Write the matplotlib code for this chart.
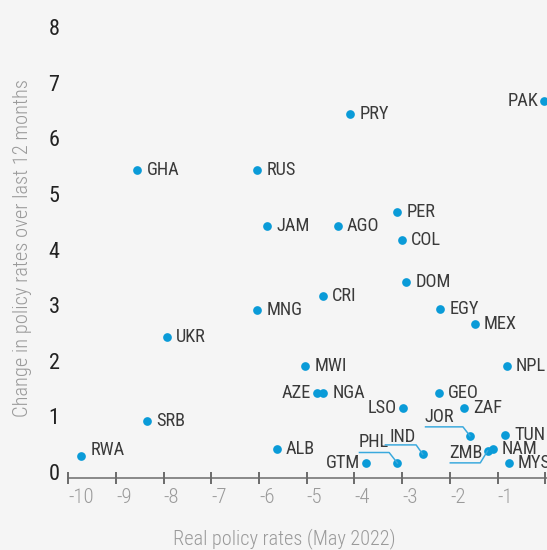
import matplotlib
matplotlib.use("Agg")
import matplotlib.pyplot as plt
from matplotlib.lines import Line2D
from matplotlib.transforms import IdentityTransform

plt.rcParams['font.family'] = ['Roboto Condensed', 'Liberation Sans Narrow', 'Roboto', 'DejaVu Sans']

# ---- data ----
countries = ["GHA", "RUS", "JAM", "PRY", "PAK", "AGO", "PER", "COL", "DOM", "CRI",
             "MNG", "EGY", "MEX", "NPL", "MWI", "AZE", "NGA", "LSO", "GEO", "ZAF",
             "JOR", "TUN", "IND", "NAM", "ZMB", "MYS", "PHL", "GTM", "ALB", "UKR",
             "SRB", "RWA"]
real_rate = [-8.55, -6.04, -5.83, -4.09, -0.02, -4.35, -3.10, -3.00, -2.91, -4.67,
             -6.04, -2.20, -1.48, -0.81, -5.03, -4.79, -4.65, -2.98, -2.23, -1.70,
             -1.58, -0.84, -2.57, -1.10, -1.21, -0.76, -3.10, -3.76, -5.63, -7.93,
             -8.34, -9.73]
rate_change = [5.43, 5.43, 4.42, 6.43, 6.68, 4.42, 4.68, 4.17, 3.42, 3.17,
               2.91, 2.93, 2.67, 1.91, 1.91, 1.42, 1.42, 1.16, 1.42, 1.16,
               0.65, 0.67, 0.32, 0.41, 0.38, 0.17, 0.16, 0.16, 0.41, 2.42,
               0.92, 0.29]
left_labels = ["PAK", "AZE", "LSO", "GTM"]
xticks = [-10, -9, -8, -7, -6, -5, -4, -3, -2, -1, 0]
yticks = [0, 1, 2, 3, 4, 5, 6, 7, 8]
xlabel = "Real policy rates (May 2022)"
ylabel = "Change in policy rates over last 12 months"

# ---- style ----
BG = "#f5f5f5"
DOT = "#0a9bd8"
LEAD = "#3aa9dd"
TXT = "#3a3a3a"
GREY = "#9a9a9a"
PX = 0.72  # points per pixel at 100 dpi
LABEL_FS = 13.2

W, H = 547, 550
fig = plt.figure(figsize=(W / 100, H / 100), dpi=100, facecolor=BG)
x_left_px = 68.3
unit_x = 47.7
unit_y = 55.6
y0_from_bottom = 78.0
ax_bottom_px = y0_from_bottom - 0.1 * unit_y
ax = fig.add_axes([x_left_px / W, ax_bottom_px / H, 1 - x_left_px / W, 1 - ax_bottom_px / H])
ax.set_facecolor(BG)
ax.set_xlim(-10, -10 + (W - x_left_px) / unit_x)
ax.set_ylim(-0.1, -0.1 + (H - ax_bottom_px) / unit_y)

for s in ["top", "right", "left"]:
    ax.spines[s].set_visible(False)
ax.spines["bottom"].set_color("#6b6b6b")
ax.spines["bottom"].set_linewidth(1.1)
ax.spines["bottom"].set_bounds(-10, 5)

ax.set_xticks(xticks)
ax.set_xticklabels([str(t) for t in xticks])
ax.set_yticks(yticks)
ax.set_yticklabels([str(t) for t in yticks])
ax.tick_params(axis="x", direction="inout", length=12.3 * PX, width=1.4, color="#6b6b6b",
               labelsize=15, labelcolor=GREY, pad=3)
ax.tick_params(axis="y", length=0, labelsize=16, labelcolor="#222222", pad=8.8 * PX)
for lab in ax.get_xticklabels():
    lab.set_horizontalalignment("left")
    lab.set_fontweight("light")
for lab in ax.get_yticklabels():
    lab.set_fontweight("normal")

ax.scatter(real_rate, rate_change, s=(8.7 * PX) ** 2, color=DOT, linewidths=0, zorder=3)

leaders = {
    # text offset (px, left edge / vertical centre) and leader polyline (px) from the dot
    "JOR": ((-45.4, 19.0), [(-44.4, 9.0), (-7.0, 9.0), (0, 0)]),
    "PHL": ((-39.0, 21.0), [(-38.0, 10.6), (-8.3, 10.6), (0, 0)]),
    "IND": ((-33.3, 17.6), [(-37.3, 9.3), (-6.6, 9.3), (0, 0)]),
    "ZMB": ((-38.0, -2.6), [(-37.3, -12.0), (-7.3, -12.0), (0, 0)]),
}

fig.canvas.draw()
for name, x, y in zip(countries, real_rate, rate_change):
    if name in leaders:
        (tdx, tdy), path = leaders[name]
        ax.annotate(name, (x, y), xytext=(tdx * PX, tdy * PX), textcoords="offset points",
                    ha="left", va="center", fontsize=LABEL_FS, color=TXT, zorder=4)
        px, py = ax.transData.transform((x, y))
        xs = [px + dx for dx, dy in path]
        ys = [py + dy for dx, dy in path]
        fig.add_artist(Line2D(xs, ys, transform=IdentityTransform(), color=LEAD,
                              linewidth=1.5 * PX, zorder=2))
    elif name == "RWA":
        ax.annotate(name, (x, y), xytext=(9.3 * PX, 6.3 * PX), textcoords="offset points",
                    ha="left", va="center", fontsize=LABEL_FS, color=TXT)
    elif name in left_labels:
        ax.annotate(name, (x, y), xytext=(-6.0 * PX, 0), textcoords="offset points",
                    ha="right", va="center", fontsize=LABEL_FS, color=TXT)
    else:
        ax.annotate(name, (x, y), xytext=(9.0 * PX, 0), textcoords="offset points",
                    ha="left", va="center", fontsize=LABEL_FS, color=TXT)

fig.text(284 / W, 1 - 539 / H, xlabel, ha="center", va="center", fontsize=14.6,
         fontweight="light", color=GREY)
fig.text(22.5 / W, 1 - 248 / H, ylabel, ha="center", va="center", rotation=90,
         fontsize=14.8, fontweight="light", color=GREY)

fig.savefig("out.png", dpi=100, facecolor=BG)
